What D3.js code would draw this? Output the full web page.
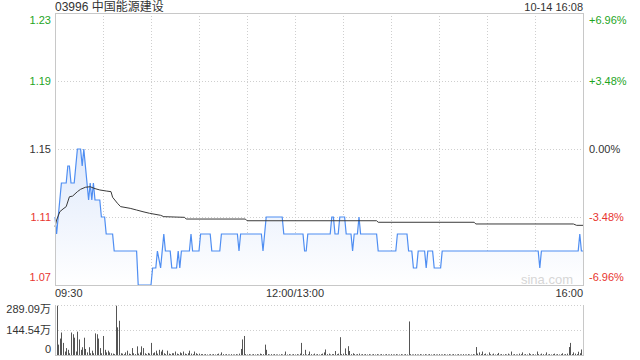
<!DOCTYPE html>
<html>
<head>
<meta charset="utf-8">
<script src="https://cdn.jsdelivr.net/npm/d3@7"></script>
<style>
  body { margin: 0; background: #fff; }
  svg { display: block; font-family: "Liberation Sans", Arial, "Noto Sans CJK SC", sans-serif; }
</style>
</head>
<body>
<div id="chart"></div>
<script>
// *** data ***
var title = "03996 中国能源建设";
var stamp = "10-14 16:08";
var prevClose = 1.15;

var priceTicks = [1.23, 1.19, 1.15, 1.11, 1.07];
var pctLabels = ["+6.96%", "+3.48%", "0.00%", "-3.48%", "-6.96%"];
var timeLabels = ["09:30", "12:00/13:00", "16:00"];
var timeLabelMin = [0, 150, 330];
var volTicks = [289.09, 144.54, 0];
var volLabels = ["289.09万", "144.54万", "0"];

// price line vertices: trading minute (0..330) and price
var priceMin = [0, 1, 4, 7, 8, 9, 10, 12, 13, 14, 16, 17, 18, 19, 20, 21, 22, 23, 24, 25,
  28, 29, 31, 32, 36, 37, 51, 52, 60, 61, 63, 64, 66, 68, 69, 72, 73, 76, 77, 78,
  79, 84, 85, 86, 90, 91, 97, 98, 103, 104, 114, 115, 116, 129, 130, 132, 142, 143, 155, 156,
  157, 158, 172, 173, 174, 175, 177, 178, 181, 182, 185, 186, 187, 189, 190, 191, 201, 202, 213, 214,
  220, 221, 223, 224, 226, 227, 231, 232, 233, 236, 237, 241, 242, 302, 303, 304, 327, 328, 329, 330];
var priceVal = [1.11, 1.10, 1.13, 1.13, 1.14, 1.14, 1.13, 1.13, 1.14, 1.15, 1.15, 1.14, 1.15, 1.14, 1.13, 1.12, 1.13, 1.12, 1.13, 1.12,
  1.12, 1.11, 1.11, 1.10, 1.10, 1.09, 1.09, 1.07, 1.07, 1.08, 1.08, 1.09, 1.08, 1.10, 1.09, 1.09, 1.08, 1.08, 1.09, 1.08,
  1.09, 1.09, 1.10, 1.09, 1.09, 1.10, 1.10, 1.09, 1.09, 1.10, 1.10, 1.09, 1.10, 1.10, 1.09, 1.11, 1.11, 1.10, 1.10, 1.09,
  1.09, 1.10, 1.10, 1.11, 1.11, 1.10, 1.10, 1.11, 1.11, 1.10, 1.10, 1.09, 1.10, 1.10, 1.11, 1.10, 1.10, 1.09, 1.09, 1.10,
  1.10, 1.09, 1.09, 1.08, 1.08, 1.09, 1.09, 1.08, 1.09, 1.09, 1.08, 1.08, 1.09, 1.09, 1.08, 1.09, 1.09, 1.10, 1.09, 1.09];

// average price line vertices
var avgMin = [0, 1, 3, 5, 7, 9, 11, 14, 16, 19, 22, 25, 28, 32, 35, 36, 39, 41, 47, 51,
  55, 59, 66, 68, 81, 82, 119, 120, 201, 202, 262, 263, 324, 326, 330];
var avgVal = [1.1043, 1.1082, 1.1131, 1.1147, 1.1161, 1.1219, 1.1223, 1.1249, 1.1263, 1.1275,
  1.1278, 1.1267, 1.1259, 1.1253, 1.1249, 1.1216, 1.1181, 1.1161, 1.1151, 1.1141,
  1.1131, 1.1122, 1.1110, 1.1102, 1.1098, 1.1088, 1.1088, 1.1078, 1.1078, 1.1069,
  1.1069, 1.1059, 1.1059, 1.1051, 1.1051];

// volume per minute (万), minute 0..330
var volume = [
  150, 285, 60, 95, 130, 70, 20, 40, 30, 10,
  130, 120, 100, 20, 135, 90, 30, 45, 100, 35,
  15, 45, 10, 25, 10, 125, 120, 95, 40, 10,
  110, 30, 15, 25, 15, 10, 8, 5, 285, 160,
  198, 10, 8, 5, 15, 25, 8, 5, 40, 10,
  5, 50, 8, 15, 50, 40, 10, 5, 12, 8,
  70, 10, 15, 25, 8, 30, 20, 30, 10, 5,
  25, 8, 5, 10, 10, 20, 8, 5, 15, 10,
  20, 8, 5, 10, 25, 8, 5, 20, 10, 5,
  8, 5, 5, 3, 5, 3, 3, 5, 3, 5,
  3, 5, 8, 3, 15, 5, 3, 5, 3, 3,
  5, 3, 3, 5, 3, 8, 35, 90, 110, 5,
  3, 5, 3, 3, 5, 3, 5, 3, 8, 5,
  5, 60, 30, 5, 3, 5, 3, 5, 3, 3,
  3, 5, 3, 3, 20, 3, 5, 3, 3, 5,
  3, 5, 3, 8, 70, 5, 30, 3, 5, 20,
  5, 3, 8, 3, 5, 3, 5, 8, 15, 32,
  5, 8, 3, 5, 5, 23, 5, 8, 103, 5,
  8, 38, 5, 51, 23, 5, 10, 5, 3, 5,
  8, 3, 5, 3, 5, 3, 5, 3, 3, 5,
  3, 5, 3, 3, 5, 3, 3, 5, 3, 3,
  5, 3, 3, 5, 3, 3, 5, 3, 3, 5,
  3, 194, 5, 3, 3, 5, 3, 3, 5, 3,
  3, 5, 3, 3, 5, 3, 3, 5, 3, 3,
  5, 3, 3, 5, 3, 3, 5, 3, 3, 5,
  3, 3, 5, 3, 3, 5, 3, 3, 5, 3,
  3, 5, 3, 46, 8, 15, 5, 20, 5, 8,
  3, 15, 5, 3, 8, 3, 5, 12, 3, 5,
  3, 5, 3, 8, 3, 20, 3, 5, 3, 3,
  8, 5, 15, 3, 5, 3, 10, 5, 3, 5,
  3, 20, 5, 3, 8, 5, 3, 15, 3, 5,
  3, 5, 8, 3, 5, 3, 5, 10, 3, 5,
  8, 46, 70, 5, 15, 8, 5, 19, 10, 32,
  25];

// *** layout ***
var W = 640, H = 360;
var left = 55, right = 583;
var pTop = 13, pBottom = 285;
var vTop = 305, vBottom = 355;
var green = "#1ea51e", red = "#e8352f", dark = "#333";
var gridColor = "#cfcfcf", borderColor = "#c8c8c8";

var svg = d3.select("#chart").append("svg")
    .attr("width", W)
    .attr("height", H);

var x = d3.scaleLinear().domain([0, 330]).range([left, right]);
var y = d3.scaleLinear().domain([1.07, 1.23]).range([pBottom, pTop]);
var yv = d3.scaleLinear().domain([0, 289.09]).range([vBottom, vTop]);

function colorFor(p) {
    if (Math.abs(p - prevClose) < 1e-9) return dark;
    return p > prevClose ? green : red;
}

// *** price panel grid ***
var grid = svg.append("g");
d3.range(30, 330, 30).forEach(function (m) {
    grid.append("line")
        .attr("x1", Math.round(x(m)) + 0.5).attr("x2", Math.round(x(m)) + 0.5)
        .attr("y1", pTop).attr("y2", pBottom)
        .attr("stroke", gridColor).attr("stroke-dasharray", "1,2");
});
priceTicks.slice(1, -1).forEach(function (p) {
    grid.append("line")
        .attr("x1", left).attr("x2", right)
        .attr("y1", Math.round(y(p)) + 0.5).attr("y2", Math.round(y(p)) + 0.5)
        .attr("stroke", gridColor).attr("stroke-dasharray", "1,2");
});

// area under the price line
var defs = svg.append("defs");
var grad = defs.append("linearGradient")
    .attr("id", "fillGrad")
    .attr("x1", 0).attr("y1", 0).attr("x2", 0).attr("y2", 1);
grad.append("stop").attr("offset", "0%").attr("stop-color", "#dfe9fb");
grad.append("stop").attr("offset", "100%").attr("stop-color", "#ffffff");

var pts = priceMin.map(function (m, i) { return [m, priceVal[i]]; });

svg.append("path")
    .datum(pts)
    .attr("fill", "url(#fillGrad)")
    .attr("d", d3.area()
        .x(function (d) { return x(d[0]); })
        .y0(pBottom)
        .y1(function (d) { return y(d[1]); }));

svg.append("text")
    .attr("x", 573).attr("y", 284)
    .attr("text-anchor", "end")
    .attr("font-size", 13)
    .attr("fill", "#d6d6d6")
    .text("sina.com");

// price line
svg.append("path")
    .datum(pts)
    .attr("fill", "none")
    .attr("stroke", "#4f8ef2")
    .attr("stroke-width", 1.2)
    .attr("d", d3.line()
        .x(function (d) { return x(d[0]); })
        .y(function (d) { return y(d[1]); }));

// average line
svg.append("path")
    .datum(avgMin.map(function (m, i) { return [m, avgVal[i]]; }))
    .attr("fill", "none")
    .attr("stroke", "#3a3a3a")
    .attr("stroke-width", 1)
    .attr("d", d3.line()
        .x(function (d) { return x(d[0]); })
        .y(function (d) { return y(d[1]); }));

// border
svg.append("rect")
    .attr("x", left + 0.5).attr("y", pTop + 0.5)
    .attr("width", right - left).attr("height", pBottom - pTop)
    .attr("fill", "none").attr("stroke", borderColor);

// *** price labels ***
function labelY(i, n, v) {
    if (i === 0) return v + 11;
    if (i === n - 1) return v - 4;
    return v + 4;
}
priceTicks.forEach(function (p, i) {
    var yy = labelY(i, priceTicks.length, y(p));
    svg.append("text")
        .attr("x", 51).attr("y", yy)
        .attr("text-anchor", "end")
        .attr("font-size", 11)
        .attr("fill", colorFor(p))
        .text(p.toFixed(2));
    svg.append("text")
        .attr("x", 589).attr("y", yy)
        .attr("font-size", 11)
        .attr("fill", colorFor(p))
        .text(pctLabels[i]);
});

// title + timestamp
svg.append("text")
    .attr("x", 55).attr("y", 11)
    .attr("font-size", 12)
    .attr("fill", dark)
    .text(title);
svg.append("text")
    .attr("x", 583).attr("y", 11)
    .attr("text-anchor", "end")
    .attr("font-size", 11)
    .attr("fill", dark)
    .text(stamp);

// time labels
timeLabels.forEach(function (t, i) {
    var anchor = i === 0 ? "start" : (i === timeLabels.length - 1 ? "end" : "middle");
    svg.append("text")
        .attr("x", x(timeLabelMin[i])).attr("y", 297)
        .attr("text-anchor", anchor)
        .attr("font-size", 11)
        .attr("fill", dark)
        .text(t);
});

// *** volume panel ***
volTicks.slice(0, 2).forEach(function (v) {
    svg.append("line")
        .attr("x1", left).attr("x2", right)
        .attr("y1", Math.round(yv(v)) + 0.5).attr("y2", Math.round(yv(v)) + 0.5)
        .attr("stroke", gridColor).attr("stroke-dasharray", "1,2");
});

svg.append("g").selectAll("rect")
    .data(volume)
    .enter().append("rect")
    .attr("x", function (d, i) { return Math.round(x(i)); })
    .attr("y", function (d) { return yv(d); })
    .attr("width", 1)
    .attr("height", function (d) { return vBottom - yv(d); })
    .attr("fill", "#555");

svg.append("line")
    .attr("x1", left + 0.5).attr("x2", left + 0.5)
    .attr("y1", vTop).attr("y2", vBottom)
    .attr("stroke", borderColor);
svg.append("line")
    .attr("x1", right + 0.5).attr("x2", right + 0.5)
    .attr("y1", vTop).attr("y2", vBottom)
    .attr("stroke", borderColor);
svg.append("line")
    .attr("x1", left).attr("x2", right + 1)
    .attr("y1", vBottom + 0.5).attr("y2", vBottom + 0.5)
    .attr("stroke", borderColor);

volTicks.forEach(function (v, i) {
    var yy = i === 0 ? yv(v) + 8 : (i === volTicks.length - 1 ? yv(v) - 2 : yv(v) + 4);
    svg.append("text")
        .attr("x", 51).attr("y", yy)
        .attr("text-anchor", "end")
        .attr("font-size", 11)
        .attr("fill", dark)
        .text(volLabels[i]);
});
</script>
</body>
</html>
